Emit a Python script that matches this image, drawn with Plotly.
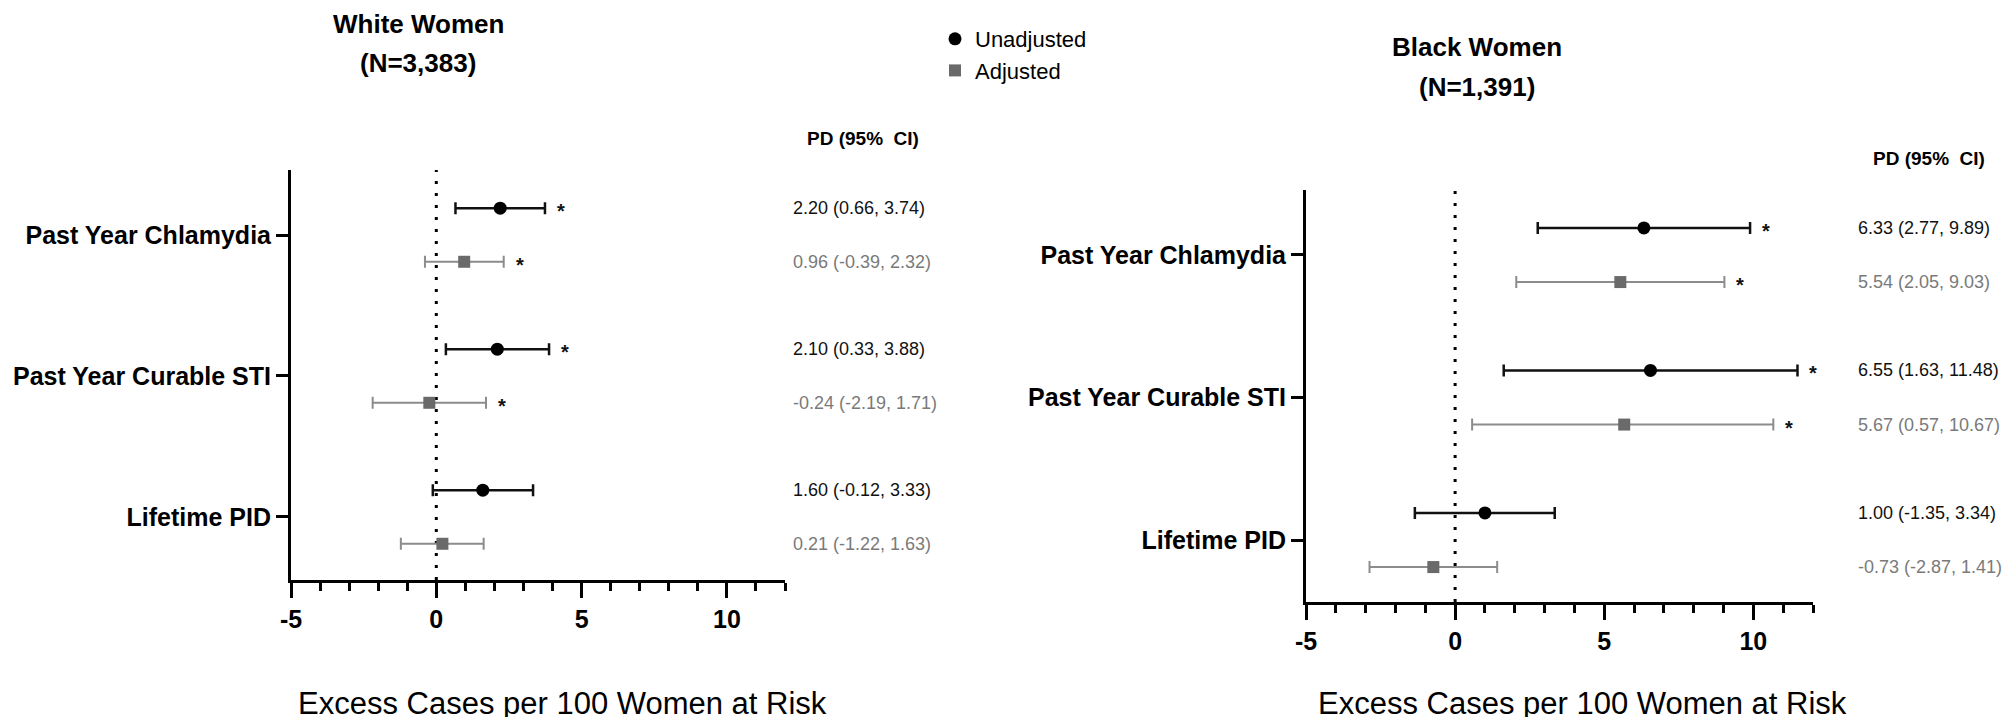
import plotly.graph_objects as go

# ---------------- data ----------------
categories = ["Past Year Chlamydia", "Past Year Curable STI", "Lifetime PID"]

white_unadj_pd = [2.20, 2.10, 1.60]
white_unadj_lo = [0.66, 0.33, -0.12]
white_unadj_hi = [3.74, 3.88, 3.33]
white_unadj_sig = [True, True, False]

white_adj_pd = [0.96, -0.24, 0.21]
white_adj_lo = [-0.39, -2.19, -1.22]
white_adj_hi = [2.32, 1.71, 1.63]
white_adj_sig = [True, True, False]

black_unadj_pd = [6.33, 6.55, 1.00]
black_unadj_lo = [2.77, 1.63, -1.35]
black_unadj_hi = [9.89, 11.48, 3.34]
black_unadj_sig = [True, True, False]

black_adj_pd = [5.54, 5.67, -0.73]
black_adj_lo = [2.05, 0.57, -2.87]
black_adj_hi = [9.03, 10.67, 1.41]
black_adj_sig = [True, True, False]

panel_titles = [("White Women", "(N=3,383)"), ("Black Women", "(N=1,391)")]
x_ticks = [-5, 0, 5, 10]
x_title = "Excess Cases per 100 Women at Risk"
ci_header = "PD (95%  CI)"

# ---------------- style ----------------
W, H = 2010, 717
BOLDF = "Liberation Sans, Arial, sans-serif"
SANS = "Liberation Sans, Arial, sans-serif"
UNADJ_COL = "#000000"
ADJ_MARK = "#6a6a6a"
ADJ_BAR = "#8c8c8c"
ADJ_TXT = "#7a7a7a"
OFF = 0.19


def px(x):
    return x / W


def py(y):
    return 1 - y / H


fig = go.Figure()

panels = [
    dict(xa="x", ya="y", unadj=(white_unadj_pd, white_unadj_lo, white_unadj_hi, white_unadj_sig),
         adj=(white_adj_pd, white_adj_lo, white_adj_hi, white_adj_sig), legend=True),
    dict(xa="x2", ya="y2", unadj=(black_unadj_pd, black_unadj_lo, black_unadj_hi, black_unadj_sig),
         adj=(black_adj_pd, black_adj_lo, black_adj_hi, black_adj_sig), legend=False),
]

annotations = []
shapes = []
num_x = [783, 1848]
hdr_pos = [(855, 130), (1921, 150)]
title_pos = [(410, 16, 55), (1469, 39, 79)]
xtitle_pos = [(554, 695), (1574, 695)]

for k, p in enumerate(panels):
    n = len(categories)
    for name, (vals, lo, hi, sig), off, sym, msize, mcol, bcol, bthick, tcol in [
        ("Unadjusted", p["unadj"], -OFF, "circle", 13, UNADJ_COL, "#111111", 2.5, "#111111"),
        ("Adjusted", p["adj"], OFF, "square", 12, ADJ_MARK, ADJ_BAR, 2, ADJ_TXT),
    ]:
        ys = [i + off for i in range(n)]
        fig.add_trace(go.Scatter(
            x=vals, y=ys, mode="markers", name=name,
            xaxis=p["xa"], yaxis=p["ya"], showlegend=p["legend"],
            marker=dict(symbol=sym, size=msize, color=mcol),
            error_x=dict(type="data", symmetric=False,
                         array=[h - v for h, v in zip(hi, vals)],
                         arrayminus=[v - l for v, l in zip(vals, lo)],
                         color=bcol, thickness=bthick, width=6),
        ))
        for i in range(n):
            annotations.append(dict(
                xref="paper", x=px(num_x[k]), xanchor="left",
                yref=p["ya"], y=ys[i], yanchor="middle",
                text=f"{vals[i]:.2f} ({lo[i]:.2f}, {hi[i]:.2f})",
                showarrow=False, font=dict(family=SANS, size=18, color=tcol)))
            if sig[i]:
                annotations.append(dict(
                    xref=p["xa"], x=hi[i], xanchor="center", xshift=16,
                    yref=p["ya"], y=ys[i], yanchor="middle", yshift=-3,
                    text="*", showarrow=False,
                    font=dict(family=SANS, size=20, color="#111111", weight="bold")))
    # zero reference line
    shapes.append(dict(type="line", xref=p["xa"], x0=0, x1=0,
                       yref=p["ya"] + " domain", y0=0, y1=1, layer="below",
                       line=dict(color="black", width=3, dash="3px,9px")))
    # header
    hx, hy = hdr_pos[k]
    annotations.append(dict(xref="paper", yref="paper", x=px(hx), y=py(hy),
                            xanchor="center", yanchor="middle", text=ci_header,
                            showarrow=False,
                            font=dict(family=SANS, size=19, color="black", weight="bold")))
    # panel titles
    tx, ty1, ty2 = title_pos[k]
    for txt, ty in [(panel_titles[k][0], ty1), (panel_titles[k][1], ty2)]:
        annotations.append(dict(xref="paper", yref="paper", x=px(tx), y=py(ty),
                                xanchor="center", yanchor="middle", text=txt,
                                showarrow=False,
                                font=dict(family=BOLDF, size=26, color="black", weight="bold")))
    # x-axis title
    ax, ay = xtitle_pos[k]
    annotations.append(dict(xref="paper", yref="paper", x=px(ax), y=py(ay),
                            xanchor="center", yanchor="middle", text=x_title,
                            showarrow=False,
                            font=dict(family=SANS, size=31, color="black")))


def xaxis_style(domain, anchor):
    return dict(domain=domain, anchor=anchor, range=[-5, 12], automargin=False,
                tickmode="array", tickvals=x_ticks, ticktext=[str(t) for t in x_ticks],
                ticks="outside", ticklen=15, tickwidth=3, tickcolor="black",
                showline=True, linewidth=3, linecolor="black",
                showgrid=False, zeroline=False,
                tickfont=dict(family=BOLDF, size=25, color="black", weight="bold"),
                minor=dict(dtick=1, tick0=-5, ticks="outside", ticklen=8, tickwidth=3,
                           tickcolor="black", showgrid=False))


def yaxis_style(domain, anchor, rng):
    return dict(domain=domain, anchor=anchor, range=rng, automargin=False,
                tickmode="array", tickvals=list(range(len(categories))), ticktext=categories,
                ticks="outside", ticklen=12, tickwidth=3, tickcolor="black",
                showline=True, linewidth=3, linecolor="black",
                showgrid=False, zeroline=False,
                tickfont=dict(family=BOLDF, size=25, color="black", weight="bold"))


fig.update_layout(
    width=W, height=H,
    margin=dict(l=0, r=0, t=0, b=0, autoexpand=False),
    paper_bgcolor="white", plot_bgcolor="white",
    xaxis=xaxis_style([px(283), px(777)], "y"),
    yaxis=yaxis_style([py(572), py(162)], "x", [2.447, -0.461]),
    xaxis2=xaxis_style([px(1298), px(1805)], "y2"),
    yaxis2=yaxis_style([py(594), py(182)], "x2", [2.435, -0.456]),
    annotations=annotations,
    shapes=shapes,
    showlegend=True,
    legend=dict(x=px(927), y=py(10), xanchor="left", yanchor="top",
                bgcolor="rgba(0,0,0,0)", tracegroupgap=0,
                font=dict(family=SANS, size=22, color="black")),
)

fig.write_html("out.html")
